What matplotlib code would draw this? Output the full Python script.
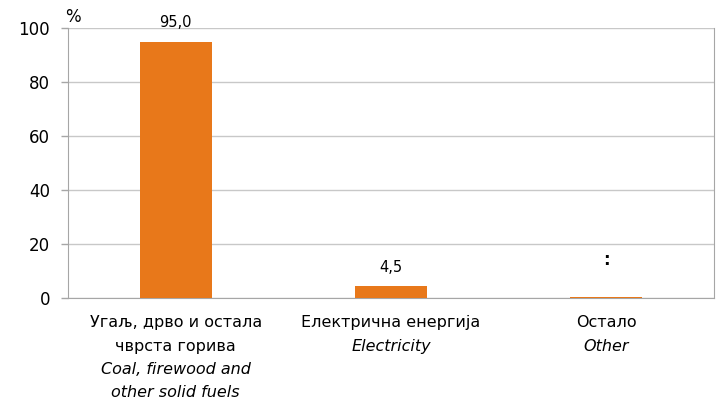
import matplotlib
matplotlib.use('Agg')
import matplotlib.pyplot as plt
from matplotlib.ticker import MultipleLocator

plt.rcParams['font.family'] = ['DejaVu Sans']

# Подаци
kategorije_sr = [['Угаљ, дрво и остала', 'чврста горива'], ['Електрична енергија'], ['Остало']]
kategorije_en = [['Coal, firewood and', 'other solid fuels'], ['Electricity'], ['Other']]
vrednosti = [95.0, 4.5, 0.3]
oznake = ['95,0', '4,5', ':']

narandzasta = '#E8781A'
siva = '#A6A6A6'

fig = plt.figure(figsize=(7.19, 4.01), dpi=100)
ax = fig.add_axes([0.0946, 0.2569, 0.8985, 0.6731])

pozicije = range(len(vrednosti))
stubici = ax.bar(pozicije, vrednosti, width=0.335, color=narandzasta, zorder=3)

ax.set_xlim(-0.5, len(vrednosti) - 0.5)
ax.set_ylim(0, 100)
ax.yaxis.set_major_locator(MultipleLocator(20))
ax.grid(axis='y', color='#C8C8C8', linewidth=1, zorder=0)
for s in ax.spines.values():
    s.set_color(siva)
ax.spines['top'].set_visible(False)
ax.tick_params(axis='y', colors=siva, labelcolor='black', labelsize=12, length=5, width=1, pad=8)
ax.tick_params(axis='x', length=0, labelbottom=False)

# Ознаке вредности
for i, (v, t) in enumerate(zip(vrednosti, oznake)):
    if t == ':':
        ax.annotate(t, (i, v), xytext=(0, 20), textcoords='offset points',
                    ha='center', va='bottom', fontsize=12, fontweight='bold')
    else:
        ax.annotate(t, (i, v), xytext=(0, 8), textcoords='offset points',
                    ha='center', va='bottom', fontsize=10.5)

# Називи категорија (ћирилица + енглески курзивом), ред по ред
pomaci = [-18, -34.6, -51.8, -67.7]
for i, (sr, en) in enumerate(zip(kategorije_sr, kategorije_en)):
    redovi = [(r, 'normal') for r in sr] + [(r, 'italic') for r in en]
    for k, (tekst, stil) in enumerate(redovi):
        ax.annotate(tekst, (i, 0), xycoords=('data', 'axes fraction'), xytext=(0, pomaci[k]),
                    textcoords='offset points', ha='center', va='center', fontsize=11.5,
                    style=stil)

fig.text(0.091, 0.945, '%', fontsize=12)

fig.savefig('out.png', dpi=100)
